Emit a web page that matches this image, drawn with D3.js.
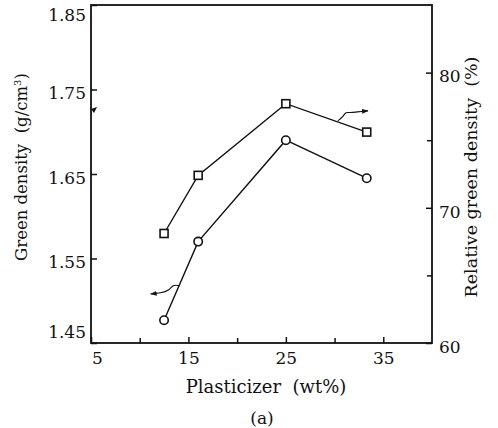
<!DOCTYPE html>
<html><head><meta charset="utf-8">
<script src="https://cdn.jsdelivr.net/npm/d3@7/dist/d3.min.js"></script>
<style>body{margin:0;background:#fff}svg{display:block}text{font-family:"DejaVu Serif",serif;fill:#111}</style>
</head><body><svg id="c" width="498" height="428"></svg>
<script>
// Data
const plasticizer = [12.5, 16, 25, 33.3];               // wt%
const greenDensity = [1.477, 1.570, 1.690, 1.645];       // g/cm3 (circles, left axis)
const relDensity = [68.1, 72.4, 77.7, 75.6];             // % (squares, right axis)
const xTicks = [5, 15, 25, 35], xMinor = [10, 20, 30];
const yLeftTicks = [1.45, 1.55, 1.65, 1.75, 1.85];
const yRightTicks = [60, 70, 80], yRightMinor = [65, 75];
// annotation arrows (data units)
const circleArrow = [[14.05,1.5178],[13.39,1.5192],[13.03,1.5121],[12.15,1.5092],[11.13,1.5080]];
const squareArrow = [[30.34,76.43],[30.86,76.73],[31.17,77.10],[31.58,77.02],[32.30,77.10],[33.43,77.17]];

const W=498,H=428, m={l:91,r:66,t:5,b:85};
const svg=d3.select("#c");
const x=d3.scaleLinear().domain([5,40]).range([m.l,W-m.r]);
const yL=d3.scaleLinear().domain([1.45,1.85]).range([H-m.b,m.t]);
const yR=d3.scaleLinear().domain([60,85]).range([H-m.b,m.t]);

svg.append("defs").append("marker").attr("id","ah").attr("viewBox","0 0 10 10")
 .attr("refX",9).attr("refY",5).attr("markerWidth",6).attr("markerHeight",6).attr("orient","auto")
 .append("path").attr("d","M0,1.5L10,5L0,8.5Z").attr("fill","#111");

// frame
svg.append("rect").attr("x",m.l).attr("y",m.t).attr("width",W-m.r-m.l).attr("height",H-m.b-m.t)
 .attr("fill","none").attr("stroke","#111").attr("stroke-width",1.8);

function styleAxis(g){g.select(".domain").remove();g.selectAll("line").attr("stroke","#111").attr("stroke-width",1.5);
 g.selectAll("text").attr("font-size",17).style("font-family",'"DejaVu Serif",serif');}

// bottom axis
svg.append("g").attr("transform",`translate(0,${H-m.b})`)
 .call(d3.axisBottom(x).tickValues(xTicks).tickSizeInner(-6).tickSizeOuter(0).tickPadding(9).tickFormat(d3.format("d")))
 .call(styleAxis).call(g=>g.selectAll(".tick text").attr("dx",d=>d===5?6:0));
svg.append("g").attr("transform",`translate(0,${H-m.b})`)
 .call(d3.axisBottom(x).tickValues(xMinor).tickSizeInner(-5).tickSizeOuter(0).tickFormat(""))
 .call(styleAxis);
// left axis
svg.append("g").attr("transform",`translate(${m.l},0)`)
 .call(d3.axisLeft(yL).tickValues(yLeftTicks).tickSizeInner(-6).tickSizeOuter(0).tickPadding(5).tickFormat(d3.format(".2f")))
 .call(styleAxis).call(g=>g.selectAll(".tick text").attr("dy",d=>d===1.85?"0.9em":d===1.45?"-0.35em":"0.55em"));
// right axis
svg.append("g").attr("transform",`translate(${W-m.r},0)`)
 .call(d3.axisRight(yR).tickValues(yRightTicks).tickSizeInner(-6).tickSizeOuter(0).tickPadding(7).tickFormat(d3.format("d")))
 .call(styleAxis).call(g=>g.selectAll(".tick text").attr("dy","0.55em"));
svg.append("g").attr("transform",`translate(${W-m.r},0)`)
 .call(d3.axisRight(yR).tickValues(yRightMinor).tickSizeInner(-5).tickSizeOuter(0).tickFormat(""))
 .call(styleAxis);

// axis titles
svg.append("text").attr("transform",`translate(27,167) rotate(-90)`).attr("text-anchor","middle")
 .attr("font-size",16.5).html('Green density\u00a0 (g/cm<tspan dy="-6" font-size="10">3</tspan><tspan dy="6">)</tspan>');
svg.append("text").attr("transform",`translate(477,177) rotate(-90)`).attr("text-anchor","middle")
 .attr("font-size",17.5).text("Relative green density\u00a0 (%)");
svg.append("text").attr("x",266).attr("y",393).attr("text-anchor","middle").attr("font-size",18).text("Plasticizer\u00a0 (wt%)");
svg.append("text").attr("x",262).attr("y",424).attr("text-anchor","middle").attr("font-size",17).text("(a)");

// lines
const pts1=plasticizer.map((d,i)=>[x(d),yL(greenDensity[i])]);
const pts2=plasticizer.map((d,i)=>[x(d),yR(relDensity[i])]);
svg.append("path").attr("d",d3.line()(pts1)).attr("fill","none").attr("stroke","#111").attr("stroke-width",1.4);
svg.append("path").attr("d",d3.line()(pts2)).attr("fill","none").attr("stroke","#111").attr("stroke-width",1.4);
svg.selectAll(".c").data(pts1).enter().append("circle").attr("cx",d=>d[0]).attr("cy",d=>d[1]).attr("r",4.2)
 .attr("fill","#fff").attr("stroke","#111").attr("stroke-width",1.6);
svg.selectAll(".s").data(pts2).enter().append("rect").attr("x",d=>d[0]-4).attr("y",d=>d[1]-4).attr("width",8).attr("height",8)
 .attr("fill","#fff").attr("stroke","#111").attr("stroke-width",1.6);

// arrows
svg.append("path").attr("d",d3.line().curve(d3.curveBasis)(circleArrow.map(p=>[x(p[0]),yL(p[1])])))
 .attr("fill","none").attr("stroke","#111").attr("stroke-width",1.1).attr("marker-end","url(#ah)");
svg.append("path").attr("d",d3.line().curve(d3.curveBasis)(squareArrow.map(p=>[x(p[0]),yR(p[1])])))
 .attr("fill","none").attr("stroke","#111").attr("stroke-width",1.1).attr("marker-end","url(#ah)");
// small mark on left axis
svg.append("path").attr("d",`M${x(5)},${yL(1.727)}l6,-2l-3,6z`).attr("fill","#111");
</script></body></html>
